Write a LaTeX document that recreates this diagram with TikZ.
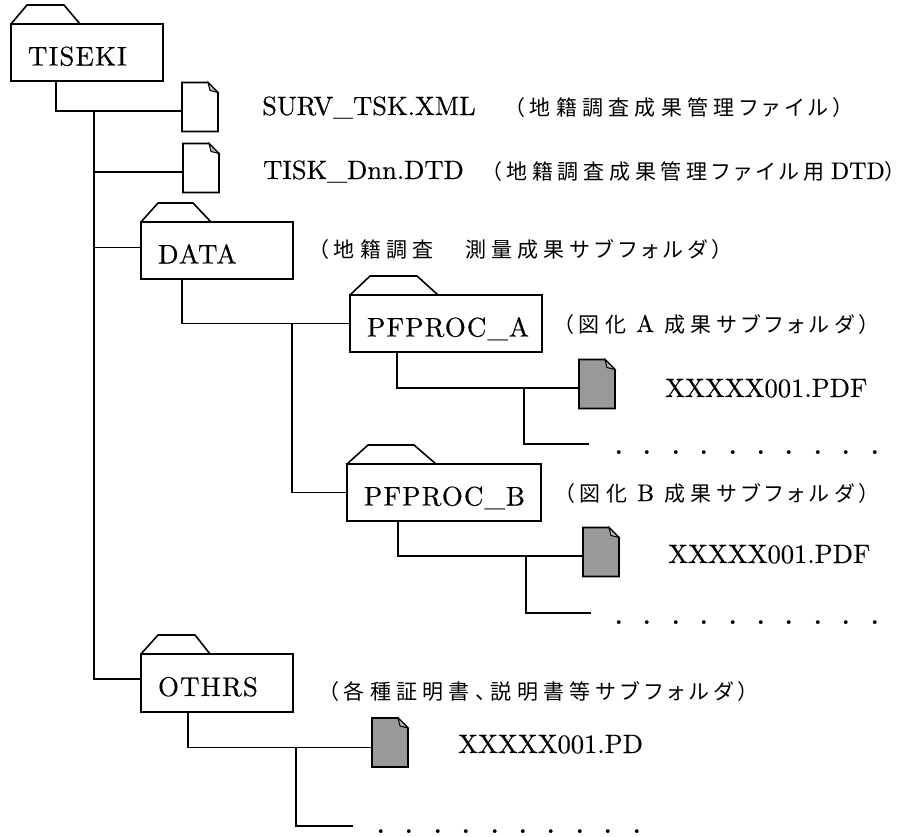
\documentclass[tikz,border=0pt]{standalone}
\usepackage{fontspec}
\newfontfamily\lmf[Extension=.otf, FakeBold=0.4]{lmroman10-regular}
\newfontfamily\lmb[Extension=.otf, LetterSpace=4, FakeBold=0.4]{lmroman10-regular}
\newfontfamily\lms[Extension=.otf, FakeBold=0.4]{lmroman10-regular}
\newfontfamily\jpf[RawFeature=+palt, LetterSpace=25]{Noto Sans CJK JP}
\newfontfamily\jpn[RawFeature=+palt, LetterSpace=22.5]{Noto Sans CJK JP}
\newcommand\jptxt{\fontsize{21}{24}\selectfont\jpf}
\newcommand\jpntxt{\fontsize{21}{24}\selectfont\jpn}
\newcommand\lmtxt{\fontsize{26.5}{30}\selectfont\lmf}
\newcommand\lmsm{\fontsize{24}{28}\selectfont\lms}
\definecolor{docgray}{HTML}{999999}
\definecolor{foldgray}{HTML}{B4B4B4}
\tikzset{
 conn/.style={line width=1.8pt},
 boxline/.style={line width=1.6pt},
 folder/.style={draw, boxline, anchor=north west, minimum height=57pt, inner xsep=17pt, inner ysep=0pt, outer sep=0pt, text height=26pt, text depth=0pt, align=left, font=\fontsize{27}{30}\selectfont\lmb},
 doc/.style={minimum width=36pt, minimum height=49pt, inner sep=0pt, outer sep=0pt},
 lbl/.style={anchor=base west, inner sep=0pt, font=\lmtxt},
 jlbl/.style={anchor=base west, inner sep=0pt, font=\jptxt},
 dotrow/.style={anchor=base west, inner sep=0pt, font=\fontsize{46}{46}\selectfont},
}
\newcommand\drawdoc[2]{%
 \draw[boxline, fill=#2] (#1.north west) -- ([xshift=-10pt]#1.north east) -- ([yshift=-10pt]#1.north east) -- (#1.south east) -- (#1.south west) -- cycle;
 \draw[line width=1pt, fill=foldgray] ([xshift=-10pt]#1.north east) -- ([xshift=-8pt,yshift=-8pt]#1.north east) -- ([yshift=-10pt]#1.north east) -- cycle;}
\newcommand\foldertab[4]{\draw[boxline] (#1.north west) -- ++(#2,-19) -- ++(#3,0) -- ++(#4,19);}
\begin{document}
\begin{tikzpicture}[x=1pt,y=-1pt]
\useasboundingbox (0,0) rectangle (908,836);

% folders
\node[folder, minimum width=152pt, text width=118pt] (tiseki) at (11,24) {TISEKI};
\node[folder, minimum width=152pt, text width=118pt] (data) at (141,222) {DATA};
\node[folder, minimum width=192pt, text width=158pt] (pfa) at (350,295) {PFPROC\_A};
\node[folder, minimum width=194pt, text width=160pt] (pfb) at (347,464) {PFPROC\_B};
\node[folder, minimum width=152pt, minimum height=58pt, text width=118pt] (othrs) at (141,654) {OTHRS};
\foldertab{tiseki}{16}{37}{16}
\foldertab{data}{17}{35}{18}
\foldertab{pfa}{20}{47}{21}
\foldertab{pfb}{21}{46}{22}
\foldertab{othrs}{17}{37}{15}

% documents
\node[doc] (f1) at (200,107) {};
\node[doc] (f2) at (201,168) {};
\node[doc] (fA) at (597,384) {};
\node[doc] (fB) at (601,552) {};
\node[doc] (fC) at (390,742.5) {};
\drawdoc{f1}{white}
\drawdoc{f2}{white}
\drawdoc{fA}{docgray}
\drawdoc{fB}{docgray}
\drawdoc{fC}{docgray}

% labels
\node[lbl] (l1) at (262,115) {SURV\_TSK.XML};
\node[jlbl] (j1t) at (514,115) {（地籍調査成果管理ファイル）};
\node[lbl] (l2) at (263,179) {TISK\_Dnn.DTD};
\node[jlbl, font=\jpntxt] (j2t) at (491,179) {（地籍調査成果管理ファイル用\hspace{6pt}{\lmsm DTD}）\hspace{-5pt}};
\node[jlbl] (j3t) at (318,257) {（地籍調査　測量成果サブフォルダ）};
\node[jlbl] (j4t) at (563,332) {（図化 {\lmsm A} 成果サブフォルダ）};
\node[lbl] (l4) at (665,397) {XXXXX001.PDF};
\node[jlbl] (j5t) at (564,501) {（図化 {\lmsm B} 成果サブフォルダ）};
\node[lbl] (l5) at (668,563) {XXXXX001.PDF};
\node[jlbl] (j6t) at (328,699) {（各種証明書、説明書等サブフォルダ）};
\node[lbl] (l6) at (458,753) {XXXXX001.PD};

% dot rows
\node[dotrow] (dotsA) at (604.8,454) {\foreach \k in {1,...,10}{\makebox[28.4pt]{.}}};
\node[dotrow] (dotsB) at (604.8,624) {\foreach \k in {1,...,10}{\makebox[28.4pt]{.}}};
\node[dotrow] (dotsC) at (366.8,833) {\foreach \k in {1,...,10}{\makebox[28.4pt]{.}}};

% connectors
\coordinate (f1c) at ([yshift=-4pt]f1.west);
\coordinate (f2c) at ([yshift=-4pt]f2.west);
\coordinate (dc) at ([yshift=3pt]data.west);
\coordinate (oc) at ([yshift=4pt]othrs.west);
\coordinate (t1) at ([xshift=45pt]tiseki.south west);
\draw[conn] (t1) |- (f1c);
\coordinate (k1) at (94,112);
\draw[conn] (k1) |- (oc);
\draw[conn] (k1 |- f2c) -- (f2c);
\draw[conn] (k1 |- dc) -- (dc);

\coordinate (t2) at ([xshift=41pt]data.south west);
\draw[conn] (t2) |- (pfa.west);
\coordinate (k2) at (292,323.5);
\draw[conn] (k2) |- (pfb.west);

\coordinate (t3) at ([xshift=47pt]pfa.south west);
\coordinate (fAc) at ([yshift=-4pt]fA.west);
\draw[conn] (t3) |- (fAc);
\coordinate (eA) at (589,444);
\draw[conn] (524,0 |- fAc) |- (eA);

\coordinate (t4) at ([xshift=51pt]pfb.south west);
\coordinate (fBc) at ([yshift=-4pt]fB.west);
\draw[conn] (t4) |- (fBc);
\coordinate (eB) at (591,613);
\draw[conn] (526,0 |- fBc) |- (eB);

\coordinate (t5) at ([xshift=47pt]othrs.south west);
\coordinate (fCc) at ([yshift=-5pt]fC.west);
\draw[conn] (t5) |- (fCc);
\coordinate (eC) at (353,826);
\draw[conn] (296,0 |- fCc) |- (eC);
\end{tikzpicture}
\end{document}
